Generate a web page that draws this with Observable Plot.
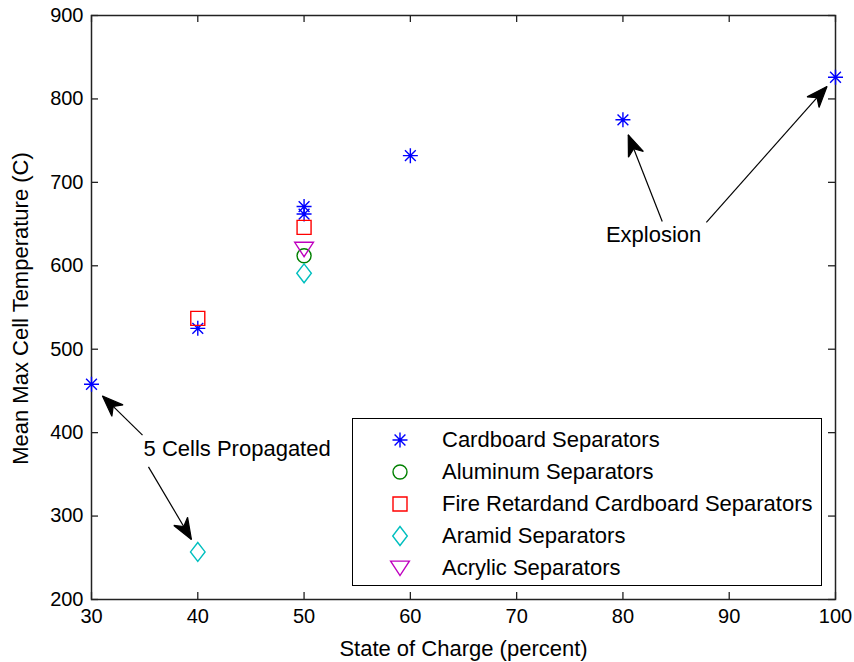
<!DOCTYPE html>
<html><head><meta charset="utf-8">
<script src="https://cdn.jsdelivr.net/npm/d3@7"></script>
<script src="https://cdn.jsdelivr.net/npm/@observablehq/plot@0.6"></script>
<style>
body{margin:0;background:#fff;font-family:"Liberation Sans",Arial,sans-serif;}
#wrap{position:relative;width:854px;height:662px;}
#legend{position:absolute;left:352px;top:418px;width:470px;height:168px;border:1.3px solid #000;background:#fff;box-sizing:border-box;}
.row{position:absolute;left:0;height:32px;display:flex;align-items:center;font-size:22px;color:#000;white-space:nowrap;}
.row svg{position:absolute;left:32px;}
.row span{position:absolute;left:89px;}
</style></head><body><div id="wrap"></div>
<script>
// ---- data ----
const xTicks = [30, 40, 50, 60, 70, 80, 90, 100];
const yTicks = [200, 300, 400, 500, 600, 700, 800, 900];
const seriesNames = ["Cardboard Separators", "Aluminum Separators", "Fire Retardand Cardboard Separators", "Aramid Separators", "Acrylic Separators"];
const seriesColors = ["#0000ff", "#008000", "#ff0000", "#00bfbf", "#bf00bf"];
const cardboardX = [30, 40, 50, 50, 60, 80, 100];
const cardboardY = [458, 525, 671, 662, 732, 775, 826];
const aluminumX = [50];
const aluminumY = [612];
const fireX = [40, 50];
const fireY = [537, 646];
const aramidX = [40, 50];
const aramidY = [257, 591];
const acrylicX = [50];
const acrylicY = [620];
const annotationText = ["5 Cells Propagated", "Explosion"];
const annotationX = [34.9, 78.4];
const annotationY = [381, 637];
const arrowX1 = [34.8, 35.36, 83.7, 87.85];
const arrowY1 = [397, 359, 653, 652];
const arrowX2 = [31.03, 39.4, 80.5, 99.2];
const arrowY2 = [444, 272, 757, 815];

// ---- symbols (size = r*r*PI) ----
const rad = s => Math.sqrt(s / Math.PI);
const symStar = {draw(c, s){ const r = rad(s), d = r*0.72;
  c.moveTo(-r,0); c.lineTo(r,0); c.moveTo(0,-r); c.lineTo(0,r);
  c.moveTo(-d,-d); c.lineTo(d,d); c.moveTo(-d,d); c.lineTo(d,-d);}};
const symCircle = {draw(c, s){ const r = rad(s); c.moveTo(r,0); c.arc(0,0,r,0,2*Math.PI);}};
const symSquare = {draw(c, s){ const r = rad(s); c.rect(-r,-r,2*r,2*r);}};
const symDiamond = {draw(c, s){ const r = rad(s), h = r*1.3;
  c.moveTo(0,-h); c.lineTo(r,0); c.lineTo(0,h); c.lineTo(-r,0); c.closePath();}};
const symTriDown = {draw(c, s){ const r = rad(s);
  c.moveTo(-r*1.3,-r*0.95); c.lineTo(r*1.3,-r*0.95); c.lineTo(0,r*1.05); c.closePath();}};
const seriesSymbols = [symStar, symCircle, symSquare, symDiamond, symTriDown];
const seriesR = [7.5, 7, 7, 7.3, 7.2];

const seriesData = [
  [cardboardX, cardboardY], [aluminumX, aluminumY], [fireX, fireY], [aramidX, aramidY], [acrylicX, acrylicY]
].map(([xs, ys], k) => xs.map((x, i) => ({x, y: ys[i], k})));

const arrows = arrowX1.map((x1, i) => ({x1, y1: arrowY1[i], x2: arrowX2[i], y2: arrowY2[i]}));
const notes = annotationText.map((t, i) => ({t, x: annotationX[i], y: annotationY[i]}));

const W = 854, H = 662, mL = 91, mR = 19, mT = 15, mB = 63;
const innerW = W - mL - mR, innerH = H - mT - mB, tk = 7;

const arrowHeads = (index, scales, values, dims, ctx, next) => {
  const g = next(index, scales, values, dims, ctx);
  const {x1: X1, y1: Y1, x2: X2, y2: Y2} = values;
  for (const i of index) {
    const dx = X2[i] - X1[i], dy = Y2[i] - Y1[i], len = Math.hypot(dx, dy);
    const ux = dx/len, uy = dy/len, px = -uy, py = ux;
    const L = 21, Wd = 8, N = 15;
    const tx = X2[i], ty = Y2[i];
    const p = [[tx, ty], [tx - ux*L + px*Wd, ty - uy*L + py*Wd], [tx - ux*N, ty - uy*N], [tx - ux*L - px*Wd, ty - uy*L - py*Wd]];
    const path = document.createElementNS("http://www.w3.org/2000/svg", "path");
    path.setAttribute("d", "M" + p.map(q => q.join(",")).join("L") + "Z");
    path.setAttribute("fill", "black");
    g.appendChild(path);
  }
  return g;
};

const plot = Plot.plot({
  width: W, height: H,
  marginLeft: mL, marginRight: mR, marginTop: mT, marginBottom: mB,
  style: {fontFamily: '"Liberation Sans", Arial, sans-serif', fontSize: "20px", color: "#000", background: "#fff"},
  x: {domain: [30, 100], ticks: xTicks},
  y: {domain: [200, 900], ticks: yTicks},
  marks: [
    Plot.ruleX(xTicks, {x: d => d, insetTop: innerH - tk, stroke: "#222", strokeWidth: 1.3}),
    Plot.ruleX(xTicks, {x: d => d, insetBottom: innerH - tk, stroke: "#222", strokeWidth: 1.3}),
    Plot.ruleY(yTicks, {y: d => d, insetRight: innerW - tk, stroke: "#222", strokeWidth: 1.3}),
    Plot.ruleY(yTicks, {y: d => d, insetLeft: innerW - tk, stroke: "#222", strokeWidth: 1.3}),
    Plot.frame({stroke: "#222", strokeWidth: 1.5}),
    Plot.axisX(xTicks, {anchor: "bottom", tickSize: 0, tickPadding: 9, label: null, fontSize: 20}),
    Plot.axisY(yTicks, {anchor: "left", tickSize: 0, tickPadding: 8, label: null, fontSize: 20}),
    Plot.text(["State of Charge (percent)"], {frameAnchor: "bottom", dy: 49, fontSize: 22, lineAnchor: "middle"}),
    Plot.text(["Mean Max Cell Temperature (C)"], {frameAnchor: "left", dx: -71, dy: 1, rotate: -90, textAnchor: "middle", fontSize: 22, lineAnchor: "middle"}),
    Plot.link(arrows, {x1: "x1", y1: "y1", x2: "x2", y2: "y2", stroke: "black", strokeWidth: 1.2, render: arrowHeads}),
    Plot.text(notes, {x: "x", y: "y", text: "t", textAnchor: "start", lineAnchor: "middle", fontSize: 22}),
    ...seriesData.map((d, k) => Plot.dot(d, {x: "x", y: "y", symbol: () => seriesSymbols[k], r: seriesR[k], stroke: seriesColors[k], strokeWidth: 1.4, fill: "none"}))
  ]
});
document.getElementById("wrap").appendChild(plot);

// legend
const leg = document.createElement("div");
leg.id = "legend";
seriesNames.forEach((name, k) => {
  const row = document.createElement("div");
  row.className = "row";
  row.style.top = (5 + k * 32) + "px";
  row.style.width = "100%";
  const svg = d3.create("svg").attr("width", 30).attr("height", 30);
  svg.append("path").attr("transform", "translate(15,15)")
    .attr("d", d3.symbol(seriesSymbols[k], seriesR[k] * seriesR[k] * Math.PI)())
    .attr("fill", "none").attr("stroke", seriesColors[k]).attr("stroke-width", 1.4);
  row.appendChild(svg.node());
  const sp = document.createElement("span");
  sp.textContent = name;
  row.appendChild(sp);
  leg.appendChild(row);
});
document.getElementById("wrap").appendChild(leg);
</script></body></html>
